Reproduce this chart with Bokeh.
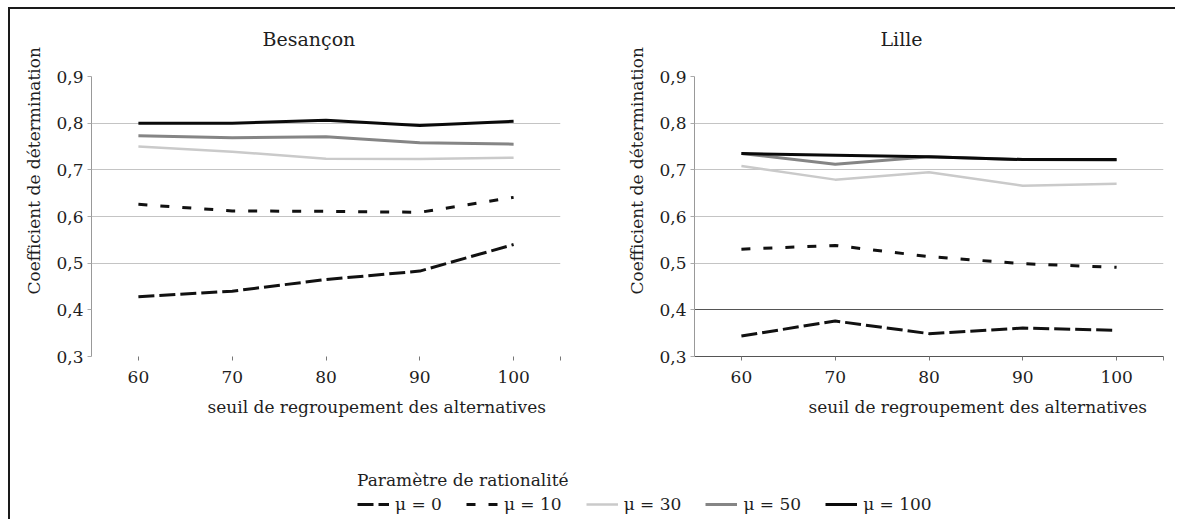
from bokeh.plotting import figure
from bokeh.layouts import row, column
from bokeh.models import (Range1d, FixedTicker, CustomJSTickFormatter, Title, Grid,
                          Legend, LegendItem)
from bokeh.embed import file_html
from bokeh.resources import INLINE

# ---------------- data ----------------
seuils = [60, 70, 80, 90, 100]
series_labels = ["μ = 0", "μ = 10", "μ = 30", "μ = 50", "μ = 100"]

besancon_mu0 = [0.428, 0.440, 0.465, 0.483, 0.540]
besancon_mu10 = [0.626, 0.612, 0.611, 0.609, 0.641]
besancon_mu30 = [0.750, 0.739, 0.724, 0.723, 0.726]
besancon_mu50 = [0.773, 0.769, 0.771, 0.758, 0.755]
besancon_mu100 = [0.800, 0.800, 0.806, 0.795, 0.804]

lille_mu0 = [0.344, 0.376, 0.349, 0.361, 0.356]
lille_mu10 = [0.530, 0.538, 0.514, 0.499, 0.491]
lille_mu30 = [0.708, 0.679, 0.695, 0.666, 0.670]
lille_mu50 = [0.735, 0.712, 0.728, 0.722, 0.721]
lille_mu100 = [0.735, 0.731, 0.728, 0.722, 0.722]

y_ticks = [0.3, 0.4, 0.5, 0.6, 0.7, 0.8, 0.9]
panel_titles = ["Besançon", "Lille"]
x_title = "seuil de regroupement des alternatives"
y_title = "Coefficient de détermination"
legend_title = "Paramètre de rationalité"

# ---------------- styles ----------------
FONT = "DejaVu Serif"
TXT = "#1e1e1e"
colors = ["#111111", "#111111", "#cacaca", "#858585", "#0a0a0a"]
widths = [3, 3, 2.5, 3, 3]
dashes = ["16 5", "9 13", "solid", "solid", "solid"]


def make_panel(title, series, left_border, right_border, dark_bottom, title_off, xt_off):
    p = figure(frame_width=469, frame_height=280,
               x_range=Range1d(55, 105), y_range=Range1d(0.3, 0.9),
               output_backend="svg", toolbar_location=None,
               min_border_left=left_border, min_border_right=right_border,
               min_border_top=72, min_border_bottom=75)
    p.outline_line_color = None
    p.background_fill_color = "white"
    p.border_fill_alpha = 0

    t = Title(text=title, align="left", offset=title_off, standoff=52,
              vertical_align="middle",
              text_font=FONT, text_font_size="19px", text_font_style="normal",
              text_color=TXT)
    p.add_layout(t, "above")

    xt = Title(text=x_title, align="left", offset=xt_off, standoff=18,
               text_font=FONT, text_font_size="17px", text_font_style="normal",
               text_color=TXT)
    p.add_layout(xt, "below")

    yt = Title(text=y_title, align="left", offset=62, standoff=19,
               text_font=FONT, text_font_size="17px", text_font_style="normal",
               text_color=TXT)
    p.add_layout(yt, "left")

    # axes
    p.xaxis.ticker = FixedTicker(ticks=seuils + [105])
    p.xaxis.major_label_overrides = {105: ""}
    p.xaxis.major_label_text_font = FONT
    p.xaxis.major_label_text_font_size = "17px"
    p.xaxis.major_label_text_color = TXT
    p.xaxis.major_label_standoff = 10
    p.xaxis.major_tick_in = 0
    p.xaxis.major_tick_out = 4
    p.xaxis.major_tick_line_color = "#777777"
    p.xaxis.minor_tick_line_color = None
    p.xaxis.axis_line_color = "#555555" if dark_bottom else None

    p.yaxis.ticker = FixedTicker(ticks=y_ticks)
    p.yaxis.formatter = CustomJSTickFormatter(code="return tick.toFixed(1).replace('.', ',');")
    p.yaxis.major_label_text_font = FONT
    p.yaxis.major_label_text_font_size = "17px"
    p.yaxis.major_label_text_color = TXT
    p.yaxis.major_label_standoff = 4
    p.yaxis.major_tick_in = 0
    p.yaxis.major_tick_out = 4
    p.yaxis.major_tick_line_color = "#aaaaaa"
    p.yaxis.minor_tick_line_color = None
    p.yaxis.axis_line_color = "#999999"

    # grids
    p.ygrid.ticker = FixedTicker(ticks=[0.5, 0.6, 0.7, 0.8, 0.9])
    p.ygrid.grid_line_color = "#c4c4c4"
    p.xgrid.ticker = FixedTicker(ticks=[105])
    p.xgrid.grid_line_color = "#cccccc"
    if dark_bottom:
        p.add_layout(Grid(dimension=1, ticker=FixedTicker(ticks=[0.4]),
                          grid_line_color="#555555"))

    for i, ys in enumerate(series):
        p.line(seuils, ys, line_color=colors[i], line_width=widths[i],
               line_dash=dashes[i], line_join="round")
    return p


p1 = make_panel(panel_titles[0],
                [besancon_mu0, besancon_mu10, besancon_mu30, besancon_mu50, besancon_mu100],
                91, 40, False, 171, 116)
p2 = make_panel(panel_titles[1],
                [lille_mu0, lille_mu10, lille_mu30, lille_mu50, lille_mu100],
                94, 12, True, 186, 114)

# legend figure
pl = figure(width=1175, height=88, x_range=Range1d(0, 1), y_range=Range1d(0, 1),
            output_backend="svg", toolbar_location=None, min_border=0)
pl.axis.visible = False
pl.grid.visible = False
pl.outline_line_color = None
pl.background_fill_alpha = 0
pl.border_fill_alpha = 0
items = []
for i, lab in enumerate(series_labels):
    r = pl.line(x=[5, 6], y=[5, 6], line_color=colors[i], line_width=widths[i],
                line_dash=dashes[i])
    items.append(LegendItem(label=lab, renderers=[r]))
leg = Legend(items=items, orientation="horizontal", location=(357, 5),
             title=legend_title, title_text_font=FONT, title_text_font_size="17px",
             title_text_font_style="normal", title_text_color=TXT, title_standoff=4,
             label_text_font=FONT, label_text_font_size="17px", label_text_color=TXT,
             glyph_width=32, glyph_height=20, label_standoff=6, spacing=24,
             padding=0, margin=0, border_line_color=None, background_fill_alpha=0)
pl.add_layout(leg, "center")

frame_bg = ("linear-gradient(#1a1a1a, #1a1a1a) 8px 7px / 2px 100% no-repeat, "
            "linear-gradient(#1a1a1a, #1a1a1a) 8px 7px / 100% 2px no-repeat, white")
layout = column(row(p1, p2), pl, styles={"background": frame_bg})

open("out.html", "w").write(file_html(layout, INLINE))
